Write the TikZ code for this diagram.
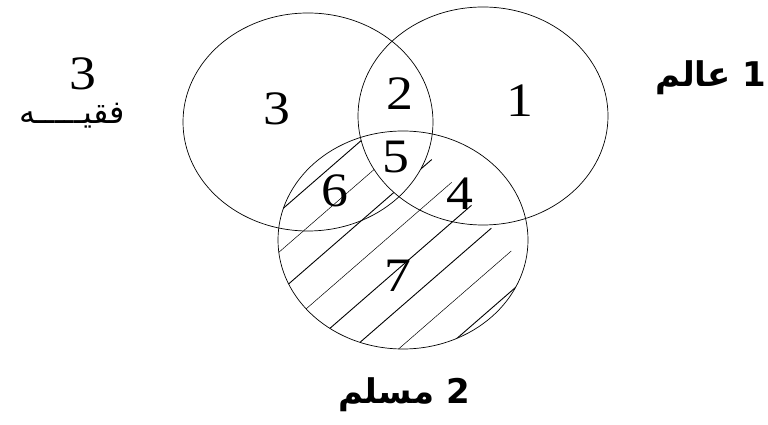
\documentclass[tikz,border=0pt]{standalone}
\usepackage{fontspec}
\setmainfont{Liberation Serif}
\newfontfamily\arabicfont[Script=Arabic]{DejaVu Sans}
\TeXXeTstate=1
\usetikzlibrary{calc}
\tikzset{
  setline/.style   = {line width=0.7pt},
  hatchline/.style = {line width=0.5pt},
  setsize/.style   = {x radius=125, y radius=109},
  num/.style       = {font=\fontsize{48}{48}\selectfont, xscale=1.12, inner sep=0pt},
  setname/.style   = {font=\arabicfont\bfseries\fontsize{34}{34}\selectfont, inner sep=0pt},
  subname/.style   = {font=\arabicfont\fontsize{32}{32}\selectfont, inner sep=0pt},
}

\begin{document}
\begin{tikzpicture}[x=1pt,y=1pt]
\useasboundingbox[fill=white] (0,0) rectangle (768,425);
\coordinate (A) at (308,303);
\coordinate (B) at (483,309);
\coordinate (C) at (403,185);
% hatching of the lower set
\begin{scope}
  \clip (C) ellipse [setsize];
  \foreach \k/\w in {0/0.9,1/0.5,2/0.9,3/0.5,4/0.9,5/0.9,6/0.5,7/0.9}
    \draw[line width=\w pt, rotate=41] (-500,-22.3-30.3*\k) -- (500,-22.3-30.3*\k);
\end{scope}
\begin{scope}
  \clip (A) ellipse [setsize];
  \fill[white] (B) ellipse [setsize];
\end{scope}
\draw[setline] (A) ellipse [setsize];
\draw[setline] (B) ellipse [setsize];
\draw[setline] (C) ellipse [setsize];
% region numbers
\node[num] (n3) at (277,316) {3};
\node[num] (n2) at (400,331) {2};
\node[num] (n1) at (520,324) {1};
\node[num] (n5) at (396,268) {5};
\node[num] (n6) at (335,234) {6};
\node[num] (n4) at (460,231) {4};
\node[num] (n7) at (398,149) {7};
% set names
\node[num] (faqihnum) at (83,351) {3};
\node[subname] (faqih) at (72,309) {\beginR فقيـــــه\endR};
\node[setname] (alim) at (711,347) {\beginR عالم\endR\ 1};
\node[setname] (muslim) at (404,30) {\beginR مسلم\endR\ 2};
\end{tikzpicture}
\end{document}
